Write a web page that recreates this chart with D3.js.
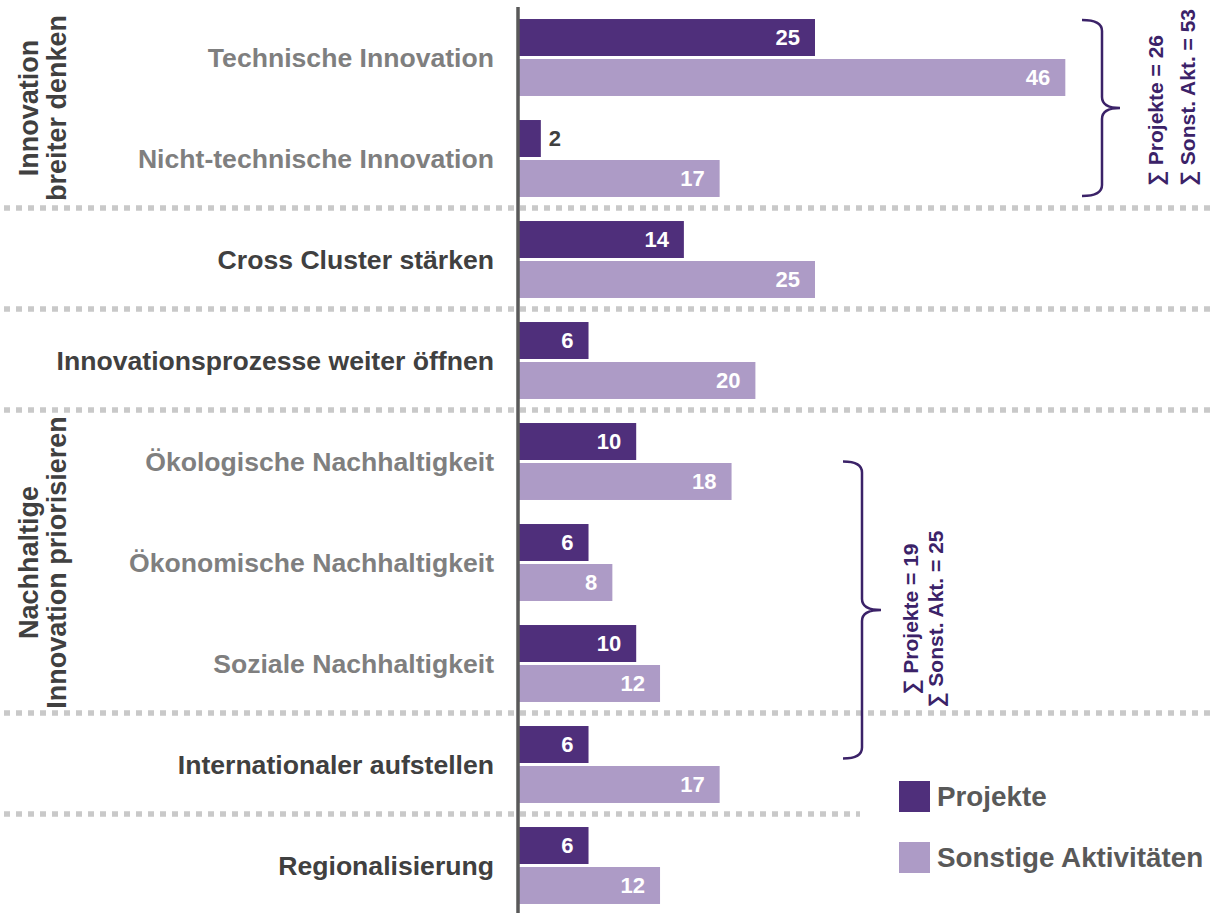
<!DOCTYPE html>
<html>
<head>
<meta charset="utf-8">
<script src="https://cdn.jsdelivr.net/npm/d3@7"></script>
<style>
  html, body { margin: 0; padding: 0; background: #ffffff; }
  svg { display: block; }
  text { font-family: "Liberation Sans", Arial, sans-serif; font-weight: bold; }
</style>
</head>
<body>
<svg id="chart" width="1215" height="913"></svg>
<script>
// ---------------- data ----------------
const categories = [
  "Technische Innovation",
  "Nicht-technische Innovation",
  "Cross Cluster stärken",
  "Innovationsprozesse weiter öffnen",
  "Ökologische Nachhaltigkeit",
  "Ökonomische Nachhaltigkeit",
  "Soziale Nachhaltigkeit",
  "Internationaler aufstellen",
  "Regionalisierung"
];
const projekte = [25, 2, 14, 6, 10, 6, 10, 6, 6];
const sonstige = [46, 17, 25, 20, 18, 8, 12, 17, 12];
const seriesNames = ["Projekte", "Sonstige Aktivitäten"];
const subCategories = [
  "Technische Innovation",
  "Nicht-technische Innovation",
  "Ökologische Nachhaltigkeit",
  "Ökonomische Nachhaltigkeit",
  "Soziale Nachhaltigkeit"
];
const groupLabels = [["Innovation", "breiter denken"], ["Nachhaltige", "Innovation priorisieren"]];
const groupMembers = [
  ["Technische Innovation", "Nicht-technische Innovation"],
  ["Ökologische Nachhaltigkeit", "Ökonomische Nachhaltigkeit", "Soziale Nachhaltigkeit"]
];
const sumLabels = [
  ["∑ Projekte = 26", "∑ Sonst. Akt. = 53"],
  ["∑ Projekte = 19", "∑ Sonst. Akt. = 25"]
];
const separatorsAfter = [
  "Nicht-technische Innovation",
  "Cross Cluster stärken",
  "Innovationsprozesse weiter öffnen",
  "Soziale Nachhaltigkeit",
  "Internationaler aufstellen"
];

// ---------------- styles ----------------
const colors = { "Projekte": "#4F2F7B", "Sonstige Aktivitäten": "#AD9BC6" };
const braceColor = "#3B2268";
const darkText = "#404040";
const grayText = "#7F7F7F";

const svg = d3.select("#chart");

const x = d3.scaleLinear().domain([0, 46]).range([517, 517 + 46 * 11.92]);
const y = d3.scaleBand().domain(categories).range([7, 916]).paddingInner(0.238).paddingOuter(0.119);
const ySub = d3.scaleBand().domain(seriesNames).range([0, y.bandwidth()]).paddingInner(0.075);

const rows = categories.map((c, i) => ({ cat: c, values: [
  { series: seriesNames[0], value: projekte[i] },
  { series: seriesNames[1], value: sonstige[i] }
]}));

// separators
const sepY = c => y(c) + y.bandwidth() + (y.step() - y.bandwidth()) / 2 - 1;
svg.append("g").selectAll("line").data(separatorsAfter).join("line")
  .attr("x1", 4)
  .attr("x2", (d, i) => i === separatorsAfter.length - 1 ? 860 : 1215)
  .attr("y1", d => sepY(d)).attr("y2", d => sepY(d))
  .attr("stroke", "#C9C9C9").attr("stroke-width", 5.5)
  .attr("stroke-dasharray", "6,6");

// bars
const rowG = svg.append("g").selectAll("g").data(rows).join("g")
  .attr("transform", d => `translate(0,${y(d.cat)})`);

rowG.selectAll("rect").data(d => d.values).join("rect")
  .attr("x", x(0))
  .attr("y", d => ySub(d.series))
  .attr("width", d => x(d.value) - x(0))
  .attr("height", ySub.bandwidth())
  .attr("fill", d => colors[d.series]);

rowG.selectAll("text.val").data(d => d.values).join("text")
  .attr("class", "val")
  .each(function(d) {
    const inside = (x(d.value) - x(0)) > 35;
    d3.select(this)
      .attr("x", inside ? x(d.value) - 15 : x(d.value) + 8)
      .attr("text-anchor", inside ? "end" : "start")
      .attr("fill", inside ? "#ffffff" : darkText);
  })
  .attr("y", d => ySub(d.series) + ySub.bandwidth() / 2)
  .attr("dy", "0.36em")
  .attr("font-size", 22)
  .text(d => d.value);

// category labels
svg.append("g").selectAll("text").data(categories).join("text")
  .attr("x", 494)
  .attr("y", d => y(d) + y.bandwidth() / 2)
  .attr("dy", "0.35em")
  .attr("text-anchor", "end")
  .attr("font-size", 26.6)
  .attr("fill", d => subCategories.includes(d) ? grayText : darkText)
  .text(d => d);

// axis line
svg.append("line")
  .attr("x1", 518).attr("x2", 518)
  .attr("y1", 7).attr("y2", 913)
  .attr("stroke", "#595959").attr("stroke-width", 3.5);

// group labels (rotated)
groupMembers.forEach((members, gi) => {
  const top = y(members[0]);
  const bot = y(members[members.length - 1]) + y.bandwidth();
  const cy = (top + bot) / 2;
  const baselines = [38, 66];
  groupLabels[gi].forEach((line, li) => {
    svg.append("text")
      .attr("transform", `translate(${baselines[li]},${cy}) rotate(-90)`)
      .attr("text-anchor", "middle")
      .attr("font-size", 27)
      .attr("fill", darkText)
      .text(line);
  });
});

// braces
function bracePath(x0, x1, x2, yT, yB, r) {
  const ym = (yT + yB) / 2;
  return `M${x0},${yT} Q${x1},${yT} ${x1},${yT + r} L${x1},${ym - r} Q${x1},${ym} ${x2},${ym}` +
         ` Q${x1},${ym} ${x1},${ym + r} L${x1},${yB - r} Q${x1},${yB} ${x0},${yB}`;
}
// brace 1: spans the "Innovation breiter denken" rows
{
  const yT = y(groupMembers[0][0]) + 1;
  const yB = y(groupMembers[0][1]) + y.bandwidth() - 1;
  svg.append("path")
    .attr("d", bracePath(1082, 1102, 1120, yT, yB, 11))
    .attr("fill", "none").attr("stroke", braceColor).attr("stroke-width", 2.5);
  const xs = [1163, 1195];
  sumLabels[0].forEach((t, i) => {
    svg.append("text")
      .attr("transform", `translate(${xs[i]},${yB - 10}) rotate(-90)`)
      .attr("text-anchor", "start")
      .attr("font-size", 21)
      .attr("fill", braceColor)
      .text(t);
  });
}
// brace 2: spans the Nachhaltigkeit rows (slightly shifted)
{
  const yT = y(groupMembers[1][0]) + y.bandwidth() / 2;
  const yB = y("Internationaler aufstellen") + y.bandwidth() / 2 - 6;
  svg.append("path")
    .attr("d", bracePath(843, 862, 881, yT, yB, 11))
    .attr("fill", "none").attr("stroke", braceColor).attr("stroke-width", 2.5);
  const ym = (yT + yB) / 2 + 9;
  const xs = [918, 943];
  sumLabels[1].forEach((t, i) => {
    svg.append("text")
      .attr("transform", `translate(${xs[i]},${ym}) rotate(-90)`)
      .attr("text-anchor", "middle")
      .attr("font-size", 21)
      .attr("fill", braceColor)
      .text(t);
  });
}

// legend
const legend = svg.append("g").selectAll("g").data(seriesNames).join("g")
  .attr("transform", (d, i) => `translate(899,${781 + i * 61})`);
legend.append("rect").attr("width", 31).attr("height", 31).attr("fill", d => colors[d]);
legend.append("text")
  .attr("x", 38).attr("y", 15.5).attr("dy", "0.35em")
  .attr("font-size", 27.8).attr("fill", "#595959")
  .text(d => d);
</script>
</body>
</html>
